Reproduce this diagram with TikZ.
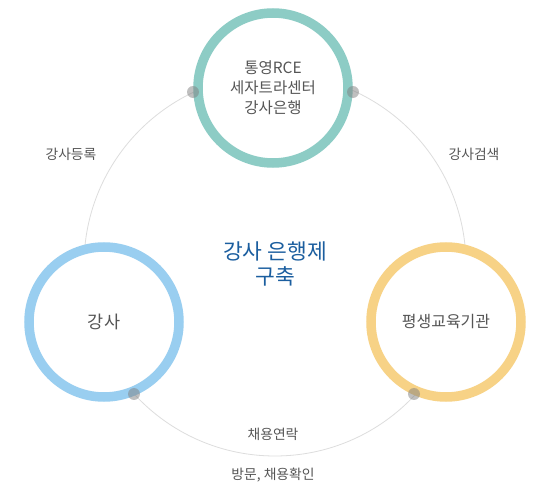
\documentclass[tikz,border=0pt]{standalone}
\usepackage{fontspec}
\setmainfont{Noto Sans CJK KR}
\begin{document}
\begin{tikzpicture}[x=1pt,y=-1pt,
  hub/.style={circle,draw,fill=white,line width=9.5pt,minimum size=150pt,inner sep=0pt,align=center,text=txt},
  dotm/.style={circle,fill=dotc,fill opacity=0.5,minimum size=12pt,inner sep=0pt},
  lab/.style={text=txt,font=\fontsize{13.8}{16}\selectfont}]
\definecolor{txt}{HTML}{555555}
\definecolor{tealc}{HTML}{8DCCC5}
\definecolor{bluec}{HTML}{99CEF0}
\definecolor{yelc}{HTML}{F7D286}
\definecolor{dotc}{HTML}{808080}
\definecolor{arcc}{HTML}{DDDDDD}
\definecolor{titc}{HTML}{1B5E9F}
\useasboundingbox (0,0) rectangle (550,500);
\fill[white] (0,0) rectangle (550,500);
\node[circle,draw=arcc,line width=0.8pt,minimum size=382pt,inner sep=0pt] (orbit) at (275,265) {};
\node[hub,draw=tealc,font=\fontsize{15.5}{20}\selectfont] (top) at (273,88) {통영RCE\\세자트라센터\\강사은행};
\node[hub,draw=bluec,font=\fontsize{17.5}{20}\selectfont] (left) at (104,322) {강사};
\node[hub,draw=yelc,font=\fontsize{16}{19}\selectfont] (right) at (446,322) {평생교육기관};
\node[dotm] (d1) at (193,92) {};
\node[dotm] (d2) at (353,92) {};
\node[dotm] (d3) at (134,394) {};
\node[dotm] (d4) at (414,394) {};
\node[text=titc,align=center,font=\fontsize{21.5}{25}\selectfont] (title) at (275,264) {강사 은행제\\구축};
\node[lab] (l1) at (71,154) {강사등록};
\node[lab] (l2) at (474,154) {강사검색};
\node[lab] (l3) at (273,434) {채용연락};
\node[lab] (l4) at (273,475) {방문, 채용확인};
\end{tikzpicture}
\end{document}
